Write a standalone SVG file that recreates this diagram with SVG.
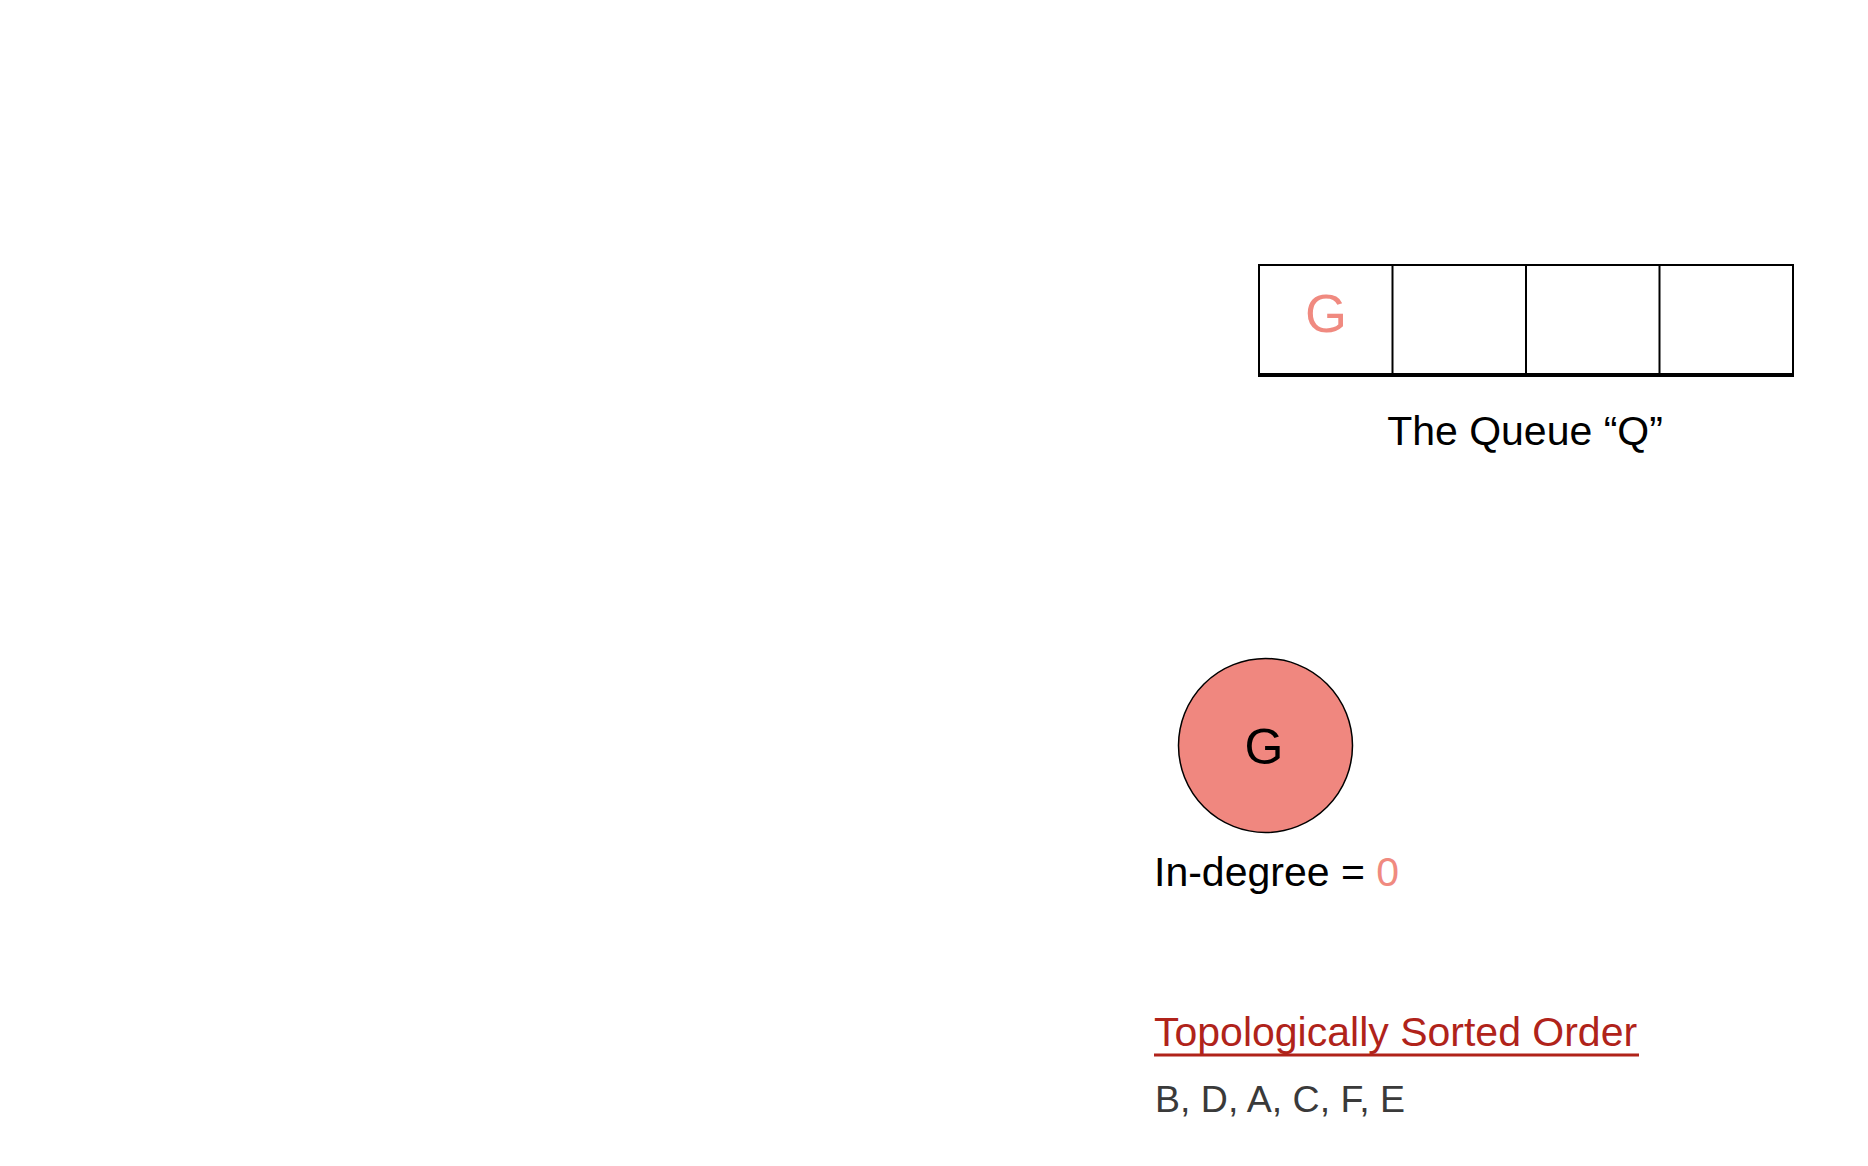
<svg xmlns="http://www.w3.org/2000/svg" width="1868" height="1166" viewBox="0 0 1868 1166">
<style>
.t{font-family:"Liberation Sans",Arial,sans-serif;font-size:41px;fill:#000}
.cell{fill:none;stroke:#000;stroke-width:2}
</style>
<rect width="1868" height="1166" fill="#fff"/>
<g id="queue">
<rect class="cell" x="1259" y="265" width="534" height="110"/>
<line class="cell" x1="1392.5" y1="265" x2="1392.5" y2="375"/>
<line class="cell" x1="1526" y1="265" x2="1526" y2="375"/>
<line class="cell" x1="1659.5" y1="265" x2="1659.5" y2="375"/>
<line x1="1258" y1="375" x2="1794" y2="375" stroke="#000" stroke-width="4"/>
<text class="t" x="1326" y="332" text-anchor="middle" style="font-size:54px;fill:#F08A80">G</text>
<text class="t" x="1525" y="445" text-anchor="middle">The Queue “Q”</text>
</g>
<g id="node-G">
<circle cx="1265.5" cy="745.5" r="87" fill="#F0877F" stroke="#000" stroke-width="1.5"/>
<text class="t" x="1264" y="764" text-anchor="middle" style="font-size:50px">G</text>
</g>
<g id="indegree">
<text class="t" x="1154" y="886">In-degree = <tspan fill="#F08A80">0</tspan></text>
</g>
<g id="order">
<text class="t" x="1154" y="1046" style="fill:#B0231A">Topologically Sorted Order</text>
<line x1="1154" y1="1055" x2="1639" y2="1055" stroke="#B0231A" stroke-width="3"/>
<text class="t" x="1155" y="1112" style="fill:#3A3A3A;font-size:37.5px">B, D, A, C, F, E</text>
</g>
<g id="connectors"/>
</svg>
